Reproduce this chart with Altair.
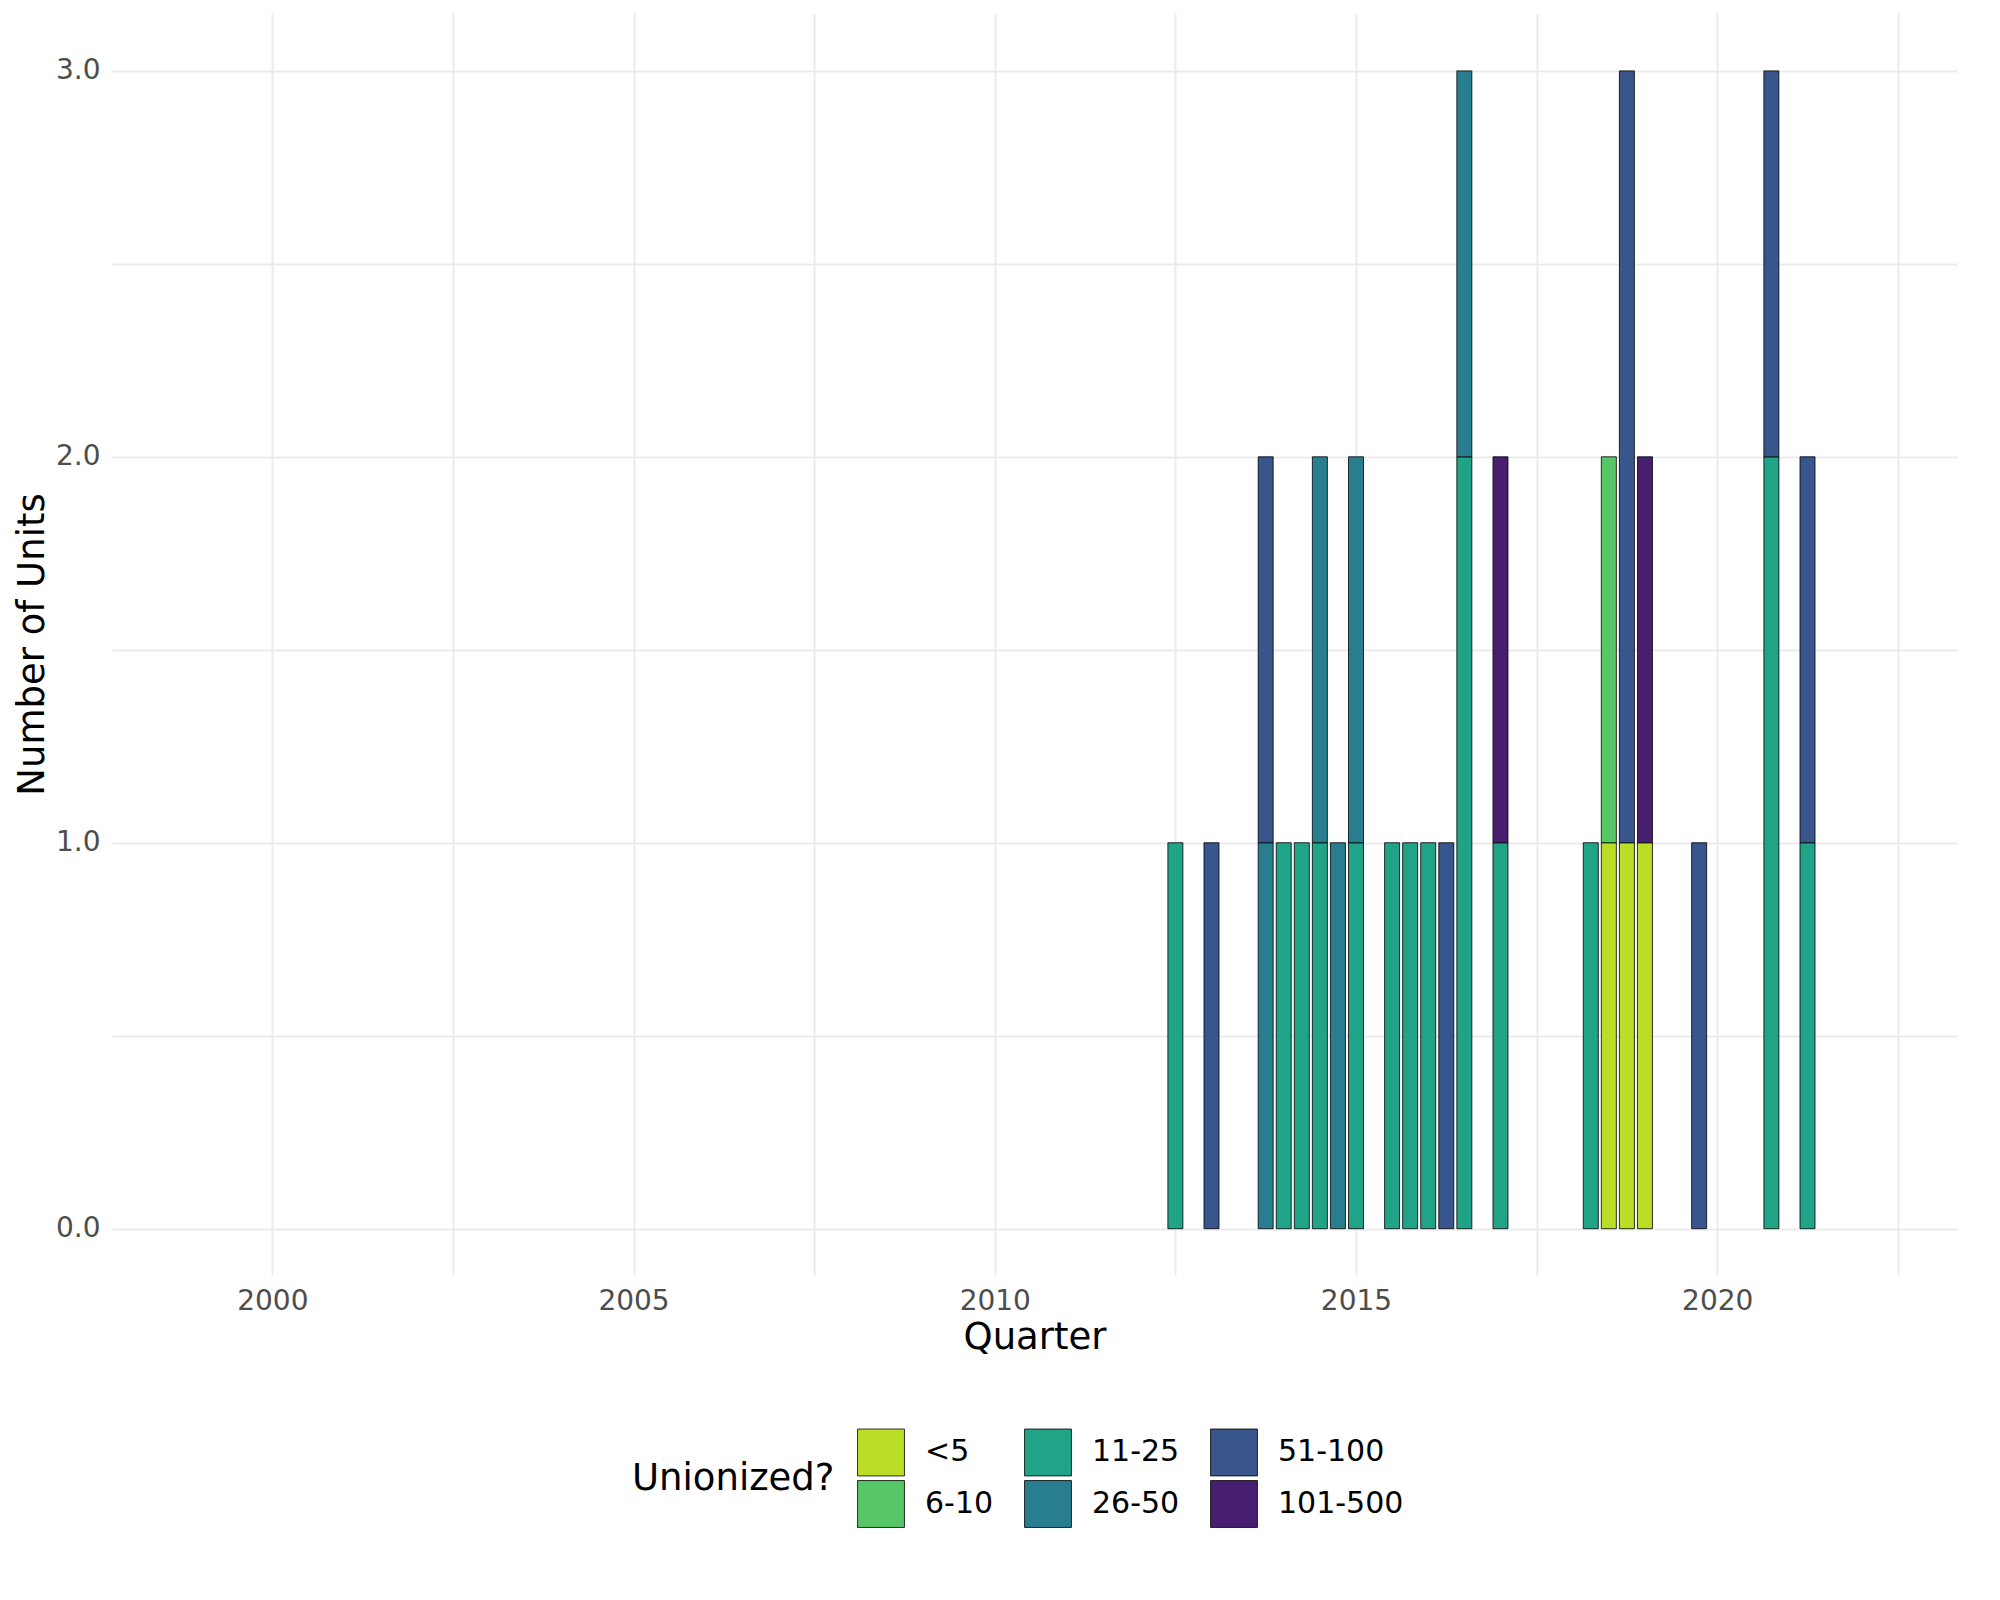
import altair as alt
import pandas as pd

quarters = [2012.5, 2013.0, 2013.75, 2013.75, 2014.0, 2014.25, 2014.5, 2014.5, 2014.75, 2015.0, 2015.0,
            2015.5, 2015.75, 2016.0, 2016.25, 2016.5, 2016.5, 2017.0, 2017.0, 2018.25, 2018.5, 2018.5,
            2018.75, 2018.75, 2019.0, 2019.0, 2019.75, 2020.75, 2020.75, 2021.25, 2021.25]
sizes = ["11-25", "51-100", "26-50", "51-100", "11-25", "11-25", "11-25", "26-50", "26-50", "11-25", "26-50",
         "11-25", "11-25", "11-25", "51-100", "11-25", "26-50", "11-25", "101-500", "11-25", "<5", "6-10",
         "<5", "51-100", "<5", "101-500", "51-100", "11-25", "51-100", "11-25", "51-100"]
counts = [1, 1, 1, 1, 1, 1, 1, 1, 1, 1, 1,
          1, 1, 1, 1, 2, 1, 1, 1, 1, 1, 1,
          1, 2, 1, 1, 1, 2, 1, 1, 1]

levels = ["<5", "6-10", "11-25", "26-50", "51-100", "101-500"]
colors = ["#BADE28", "#56C667", "#20A386", "#287D8E", "#39568C", "#481F70"]

df = pd.DataFrame({"q": quarters, "size": sizes, "n": counts})
df["ord"] = df["size"].map({k: i for i, k in enumerate(levels)})

chart = alt.Chart(df).mark_bar(size=15, stroke="black", strokeWidth=0.8).encode(
    x=alt.X("q:Q", title="Quarter", scale=alt.Scale(domain=[1997.85, 2023.25], nice=False, zero=False),
            axis=alt.Axis(values=[2000 + 2.5 * i for i in range(10)],
                          labelExpr="datum.value % 5 == 0 ? datum.label : ''", format="d")),
    y=alt.Y("n:Q", title="Number of Units", stack="zero",
            scale=alt.Scale(domain=[-0.12, 3.15], nice=False, zero=False),
            axis=alt.Axis(values=[0, 0.5, 1, 1.5, 2, 2.5, 3],
                          labelExpr="datum.value % 1 == 0 ? format(datum.value, '.1f') : ''")),
    color=alt.Color("size:N", title="Unionized?",
                    scale=alt.Scale(domain=levels, range=colors),
                    legend=alt.Legend(orient="none", legendX=520, legendY=1415,
                                      direction="horizontal", columns=3,
                                      values=["<5", "11-25", "51-100", "6-10", "26-50", "101-500"],
                                      titleOrient="left", titleLimit=400, symbolType="square", symbolSize=2200,
                                      symbolStrokeColor="black", symbolStrokeWidth=0.8,
                                      symbolOpacity=1, labelFontSize=30, titleFontSize=37,
                                      titleFontWeight="normal", titleColor="black", labelColor="black",
                                      rowPadding=0, columnPadding=28, titlePadding=22, labelOffset=20)),
    order=alt.Order("ord:Q"),
).properties(
    width=1845, height=1262,
    title=alt.TitleParams("Includes only certification votes with a single union, data from NLRB. https://unionelections.org",
                          orient="bottom", anchor="end", fontSize=28, fontWeight="normal", offset=170)
).configure(font="DejaVu Sans").configure_axis(
    labelFontSize=28, titleFontSize=37, titleFontWeight="normal", titleColor="black",
    labelColor="#4d4d4d", grid=True, gridColor="#EBEBEB", gridWidth=2, domain=False, ticks=False,
    labelPadding=12
).configure_view(stroke=None)

chart.save("out.html", embed_options={"renderer": "svg", "actions": False})
